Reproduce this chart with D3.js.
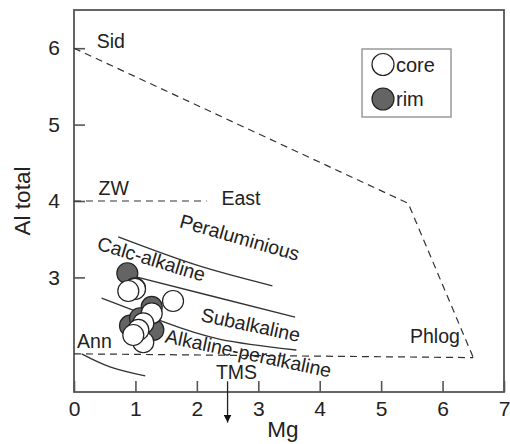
<!DOCTYPE html>
<html>
<head>
<meta charset="utf-8">
<script src="https://cdn.jsdelivr.net/npm/d3@7"></script>
<style>
  body { margin: 0; background: #fff; }
  text { font-family: "Liberation Sans", Arial, sans-serif; fill: #222; }
</style>
</head>
<body>
<script>
// tick values
const xTicks = [0, 1, 2, 3, 4, 5, 6, 7];
const yTicks = [3, 4, 5, 6];

// dashed field boundaries (Mg, Al total)
const sidLine = [[0, 6], [5.44, 3.97], [6.5, 1.95]];
const annLine = [[0, 2.0], [6.5, 1.95]];
const zwLine = [[0, 4], [2.16, 4]];

// solid magma-type boundaries
const peralBound = [[0.72, 3.53], [2.0, 3.16], [3.23, 2.89]];
const calcBound = [[0.8, 3.05], [2.27, 2.75], [3.6, 2.48]];
const subBound = [[0.45, 2.73], [1.45, 2.42], [2.38, 2.19], [3.62, 2.05]];
const lowBound = [[0.125, 2.0], [0.586, 1.83], [1.16, 1.71]];

// TMS arrow
const tmsArrow = [[2.5, 1.64], [2.5, 1.1]];

// biotite analyses
const rim = [[0.868, 3.054], [0.993, 2.857], [1.265, 2.613], [0.912, 2.368],
             [1.291, 2.312], [1.074, 2.465]];
const core = [[0.993, 2.848], [1.265, 2.53], [1.128, 2.399], [1.128, 2.151],
              [1.612, 2.691], [1.047, 2.312], [0.965, 2.246], [0.884, 2.822]];

// labels: text, Mg, Al, rotation
const fieldLabels = [
  ["Sid", 0.37, 6.0, 0],
  ["ZW", 0.40, 4.08, 0],
  ["East", 2.40, 3.95, 0],
  ["Ann", 0.05, 2.08, 0],
  ["TMS", 2.31, 1.67, 0],
  ["Phlog", 5.47, 2.14, 0],
  ["Peraluminious", 1.70, 3.66, 16],
  ["Calc-alkaline", 0.36, 3.37, 17],
  ["Subalkaline", 2.05, 2.43, 12],
  ["Alkaline-peralkaline", 1.47, 2.15, 12]
];

const W = 510, H = 444;
const margin = { top: 10, right: 6, bottom: 52, left: 74 };

const svg = d3.select("body").append("svg")
  .attr("width", W).attr("height", H);

const x = d3.scaleLinear().domain([0, 7]).range([margin.left, W - margin.right]);
const y = d3.scaleLinear().domain([1.5, 6.5]).range([H - margin.bottom, margin.top]);

svg.append("defs").append("marker")
  .attr("id", "arrow")
  .attr("viewBox", "0 0 10 10")
  .attr("refX", 10).attr("refY", 5)
  .attr("markerWidth", 8).attr("markerHeight", 8)
  .attr("markerUnits", "userSpaceOnUse")
  .attr("orient", "auto")
  .append("path").attr("d", "M0,0L10,5L0,10Z").attr("fill", "#111");

// axes with inward ticks
const xAxis = svg.append("g")
  .attr("transform", `translate(0,${y(1.5)})`)
  .call(d3.axisBottom(x).tickValues(xTicks).tickFormat(d3.format("d"))
    .tickSizeInner(-11).tickSizeOuter(0).tickPadding(9));
const yAxis = svg.append("g")
  .attr("transform", `translate(${x(0)},0)`)
  .call(d3.axisLeft(y).tickValues(yTicks).tickFormat(d3.format("d"))
    .tickSizeInner(-11).tickSizeOuter(0).tickPadding(14));

[xAxis, yAxis].forEach(g => {
  g.select(".domain").remove();
  g.selectAll(".tick line").attr("stroke", "#555").attr("stroke-width", 1.6);
  g.selectAll(".tick text").attr("font-size", 21).attr("fill", "#222");
});

// frame
svg.append("rect")
  .attr("x", x(0)).attr("y", y(6.5))
  .attr("width", x(7) - x(0)).attr("height", y(1.5) - y(6.5))
  .attr("fill", "none").attr("stroke", "#555").attr("stroke-width", 1.8);

const line = d3.line().x(d => x(d[0])).y(d => y(d[1]));
const curve = d3.line().x(d => x(d[0])).y(d => y(d[1])).curve(d3.curveNatural);

[sidLine, annLine, zwLine].forEach(d => {
  svg.append("path").attr("d", line(d))
    .attr("fill", "none").attr("stroke", "#333")
    .attr("stroke-width", 1.2).attr("stroke-dasharray", "7,5");
});

[peralBound, calcBound, subBound, lowBound].forEach(d => {
  svg.append("path").attr("d", curve(d))
    .attr("fill", "none").attr("stroke", "#333").attr("stroke-width", 1.3);
});

svg.append("path").attr("d", line(tmsArrow))
  .attr("fill", "none").attr("stroke", "#222").attr("stroke-width", 1.3)
  .attr("marker-end", "url(#arrow)");

// labels
svg.selectAll(".flabel").data(fieldLabels).join("text")
  .attr("class", "flabel")
  .attr("transform", d => `translate(${x(d[1])},${y(d[2])}) rotate(${d[3]})`)
  .attr("font-size", 19.5)
  .text(d => d[0]);

// points
const r = 10.5;
svg.selectAll(".rim").data(rim).join("circle")
  .attr("class", "rim")
  .attr("cx", d => x(d[0])).attr("cy", d => y(d[1])).attr("r", r)
  .attr("fill", "#646464").attr("stroke", "#222").attr("stroke-width", 1.2);
svg.selectAll(".core").data(core).join("circle")
  .attr("class", "core")
  .attr("cx", d => x(d[0])).attr("cy", d => y(d[1])).attr("r", r)
  .attr("fill", "#fff").attr("stroke", "#222").attr("stroke-width", 1.2);

// legend
const lg = svg.append("g").attr("transform", "translate(362,49)");
lg.append("rect").attr("width", 89).attr("height", 68)
  .attr("fill", "#fff").attr("stroke", "#999").attr("stroke-width", 1.5);
[["core", "#fff"], ["rim", "#646464"]].forEach((it, i) => {
  lg.append("circle").attr("cx", 21).attr("cy", 15.5 + i * 34.5).attr("r", 11)
    .attr("fill", it[1]).attr("stroke", "#222").attr("stroke-width", 1.2);
  lg.append("text").attr("x", 34).attr("y", 22.5 + i * 34.5)
    .attr("font-size", 20).text(it[0]);
});

// axis titles
svg.append("text")
  .attr("x", x(3.4)).attr("y", 437)
  .attr("text-anchor", "middle").attr("font-size", 22.5).text("Mg");
svg.append("text")
  .attr("transform", `translate(30,${y(4.0)}) rotate(-90)`)
  .attr("text-anchor", "middle").attr("font-size", 22.5).text("Al total");
</script>
</body>
</html>
